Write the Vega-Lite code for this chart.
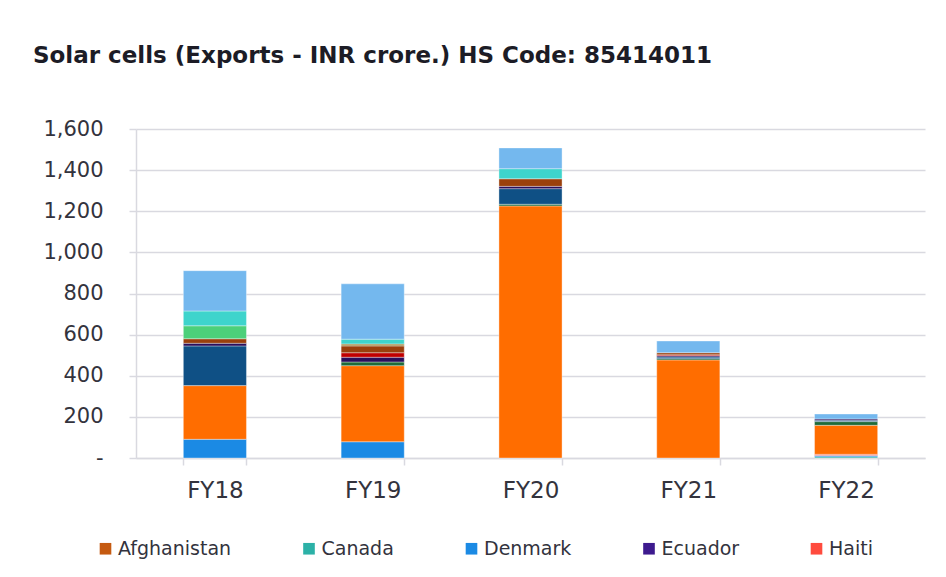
{
  "$schema": "https://vega.github.io/schema/vega-lite/v6.json",
  "width": 789,
  "height": 329,
  "autosize": {"type": "none"},
  "padding": {"left": 136, "top": 129, "right": 21, "bottom": 119},
  "background": "white",
  "title": {
    "text": "Solar cells (Exports - INR crore.) HS Code: 85414011",
    "anchor": "start",
    "frame": "group",
    "dx": -103,
    "offset": 50,
    "font": "DejaVu Sans",
    "fontSize": 23,
    "fontWeight": "bold",
    "color": "#1c1c26"
  },
  "config": {
    "view": {"stroke": null},
    "font": "DejaVu Sans"
  },
  "data": {
    "values": [
      {"year": "FY18", "country": "Denmark", "value": 91},
      {"year": "FY18", "country": "Italy", "value": 261},
      {"year": "FY18", "country": "Kenya", "value": 193},
      {"year": "FY18", "country": "Nepal", "value": 13},
      {"year": "FY18", "country": "Nigeria", "value": 22},
      {"year": "FY18", "country": "Turkey", "value": 63},
      {"year": "FY18", "country": "UAE", "value": 72},
      {"year": "FY18", "country": "USA", "value": 196},
      {"year": "FY19", "country": "Denmark", "value": 79},
      {"year": "FY19", "country": "Italy", "value": 370},
      {"year": "FY19", "country": "Japan", "value": 18},
      {"year": "FY19", "country": "Nepal", "value": 23},
      {"year": "FY19", "country": "Netherlands", "value": 22},
      {"year": "FY19", "country": "Nigeria", "value": 33},
      {"year": "FY19", "country": "Sri Lanka", "value": 10},
      {"year": "FY19", "country": "UAE", "value": 23},
      {"year": "FY19", "country": "USA", "value": 269},
      {"year": "FY20", "country": "Italy", "value": 1226},
      {"year": "FY20", "country": "Japan", "value": 8},
      {"year": "FY20", "country": "Kenya", "value": 76},
      {"year": "FY20", "country": "Nepal", "value": 11},
      {"year": "FY20", "country": "Nigeria", "value": 37},
      {"year": "FY20", "country": "UAE", "value": 49},
      {"year": "FY20", "country": "USA", "value": 101},
      {"year": "FY21", "country": "Italy", "value": 477},
      {"year": "FY21", "country": "Japan", "value": 6},
      {"year": "FY21", "country": "Kenya", "value": 8},
      {"year": "FY21", "country": "Nepal", "value": 6},
      {"year": "FY21", "country": "Netherlands", "value": 5},
      {"year": "FY21", "country": "Nigeria", "value": 10},
      {"year": "FY21", "country": "USA", "value": 57},
      {"year": "FY22", "country": "Canada", "value": 6},
      {"year": "FY22", "country": "Denmark", "value": 6},
      {"year": "FY22", "country": "Haiti", "value": 6},
      {"year": "FY22", "country": "Italy", "value": 141},
      {"year": "FY22", "country": "Japan", "value": 18},
      {"year": "FY22", "country": "Kenya", "value": 7},
      {"year": "FY22", "country": "Nepal", "value": 6},
      {"year": "FY22", "country": "USA", "value": 24}
    ]
  },
  "mark": {"type": "bar", "stroke": "white", "strokeWidth": 0.6, "strokeOpacity": 0.6},
  "encoding": {
    "x": {
      "field": "year",
      "type": "nominal",
      "sort": ["FY18", "FY19", "FY20", "FY21", "FY22"],
      "scale": {"paddingInner": 0.6, "paddingOuter": 0.3},
      "axis": {
        "title": null,
        "labelAngle": 0,
        "labelFont": "DejaVu Sans",
        "labelFontSize": 23,
        "labelColor": "#33333d",
        "labelPadding": 14,
        "tickBand": "extent",
        "tickSize": 7,
        "tickColor": "#d9d9e0",
        "tickWidth": 1.5,
        "domainColor": "#d9d9e0",
        "domainWidth": 1.5,
        "grid": false
      }
    },
    "y": {
      "field": "value",
      "type": "quantitative",
      "aggregate": "sum",
      "scale": {"domain": [0, 1600], "nice": false},
      "axis": {
        "title": null,
        "values": [0, 200, 400, 600, 800, 1000, 1200, 1400, 1600],
        "labelExpr": "datum.value == 0 ? '-\u00a0' : format(datum.value, ',')",
        "labelFont": "DejaVu Sans",
        "labelFontSize": 21,
        "labelColor": "#33333d",
        "labelPadding": 26,
        "tickSize": 7,
        "tickColor": "#d9d9e0",
        "tickWidth": 1.5,
        "domainColor": "#d9d9e0",
        "domainWidth": 1.5,
        "gridColor": "#d9d9e0",
        "gridWidth": 1.5
      }
    },
    "color": {
      "field": "country",
      "type": "nominal",
      "sort": ["Afghanistan", "Canada", "Denmark", "Ecuador", "Haiti", "Italy", "Japan", "Kenya", "Nepal", "Netherlands", "Nigeria", "Sri Lanka", "Turkey", "UAE", "USA"],
      "scale": {
        "domain": ["Afghanistan", "Canada", "Denmark", "Ecuador", "Haiti", "Italy", "Japan", "Kenya", "Nepal", "Netherlands", "Nigeria", "Sri Lanka", "Turkey", "UAE", "USA"],
        "range": ["#c55a11", "#2cb1a7", "#1b8ae4", "#3d1a8e", "#ff4b3e", "#ff6d00", "#1f6b3a", "#0f5085", "#2a0f5c", "#c00000", "#9a400c", "#a89050", "#4cd07a", "#3ed4cc", "#74b8ee"]
      },
      "legend": {
        "title": null,
        "values": ["Afghanistan", "Canada", "Denmark", "Ecuador", "Haiti"],
        "orient": "none",
        "direction": "horizontal",
        "columns": 5,
        "legendX": -40,
        "legendY": 410,
        "columnPadding": 67.5,
        "symbolType": "square",
        "symbolSize": 135,
        "symbolStrokeWidth": 0,
        "labelOffset": 3,
        "labelFont": "DejaVu Sans",
        "labelFontSize": 19,
        "labelColor": "#33333d"
      }
    },
    "order": {"field": "country", "sort": "ascending"}
  }
}
